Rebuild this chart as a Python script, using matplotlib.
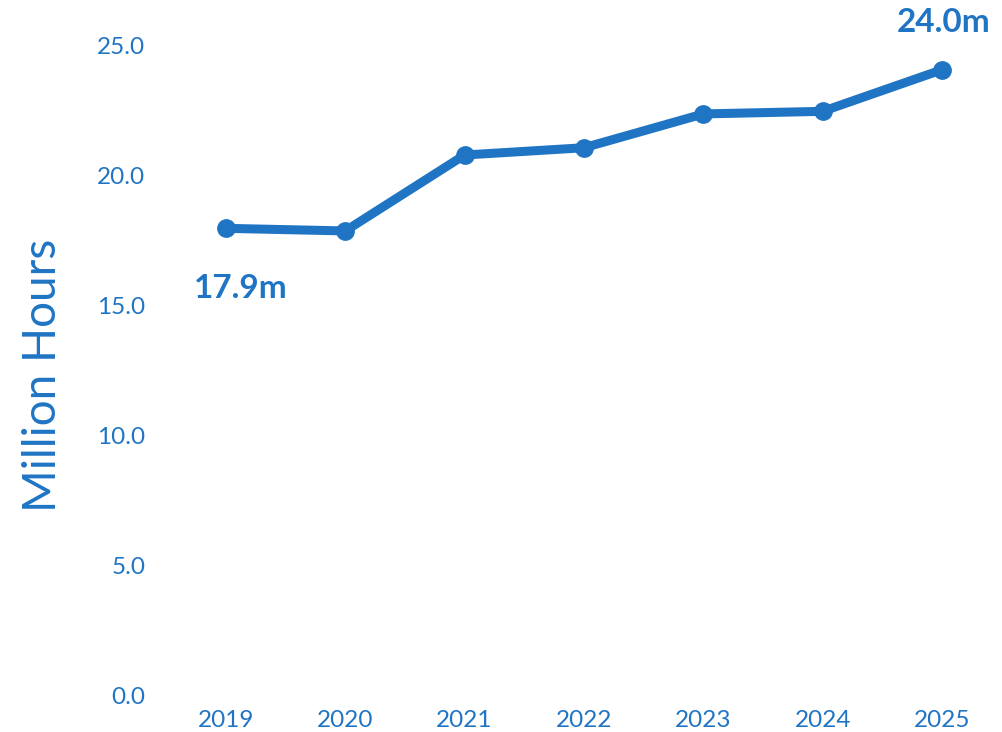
import matplotlib.pyplot as plt

years = ["2019", "2020", "2021", "2022", "2023", "2024", "2025"]
hours = [17.95, 17.85, 20.77, 21.05, 22.35, 22.45, 24.05]
first_label = "17.9m"
last_label = "24.0m"
yticks = [0, 5, 10, 15, 20, 25]

blue = "#1f75c4"
plt.rcParams['font.family'] = ['Lato', 'DejaVu Sans']

fig = plt.figure(figsize=(10.03, 7.32), dpi=100)
ax = fig.add_axes([0.1657, 0.0505, 0.833, 0.9235])

x = list(range(len(years)))
ax.plot(x, hours, color=blue, linewidth=6.5, marker='o', markersize=12.5,
        solid_capstyle='round')

ax.set_xlim(-0.5, 6.5)
ax.set_ylim(0, 26)
ax.set_xticks(x)
ax.set_xticklabels(years)
ax.set_yticks(yticks)
ax.set_yticklabels([f"{v:.1f}" for v in yticks])
ax.tick_params(colors=blue, labelsize=17.5, length=0)
ax.tick_params(axis='y', pad=15)
ax.tick_params(axis='x', pad=11)
for s in ax.spines.values():
    s.set_visible(False)

ax.set_ylabel("Million Hours", color=blue, fontsize=33, labelpad=24)
ax.yaxis.label.set_y(0.473)

ax.annotate(first_label, (x[0], hours[0]), xytext=(11, -43), textcoords='offset points',
            ha='center', va='center', color=blue, fontsize=24, fontweight='bold')
ax.annotate(last_label, (x[-1], hours[-1]), xytext=(1, 34), textcoords='offset points',
            ha='center', va='center', color=blue, fontsize=24, fontweight='bold')

fig.savefig("out.png", dpi=100)
